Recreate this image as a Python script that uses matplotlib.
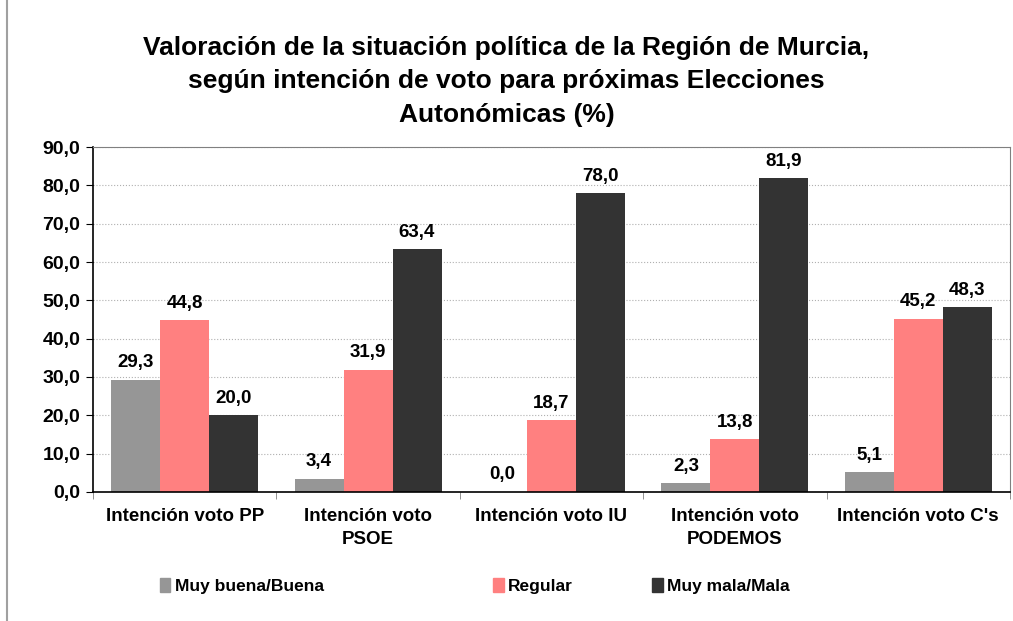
import numpy as np
import matplotlib
matplotlib.use('Agg')
from matplotlib import pyplot as plt
from matplotlib.ticker import FuncFormatter, FixedLocator
from matplotlib.lines import Line2D
from matplotlib.patches import Patch

plt.rcParams['font.family'] = ['Liberation Sans', 'DejaVu Sans']
plt.rcParams['font.weight'] = 'bold'

categories = ['Intención voto PP', 'Intención voto\nPSOE', 'Intención voto IU',
              'Intención voto\nPODEMOS', "Intención voto C's"]
series_names = ['Muy buena/Buena', 'Regular', 'Muy mala/Mala']
buena = [29.3, 3.4, 0.0, 2.3, 5.1]
regular = [44.8, 31.9, 18.7, 13.8, 45.2]
mala = [20.0, 63.4, 78.0, 81.9, 48.3]
colors = ['#969696', '#FF8080', '#333333']

title = ('Valoración de la situación política de la Región de Murcia,\n'
         'según intención de voto para próximas Elecciones\n'
         'Autonómicas (%)')


def fmt(v):
    return f'{v:.1f}'.replace('.', ',')


fig = plt.figure(figsize=(10.13, 6.21), dpi=100)
ax = fig.add_axes([0.0918, 0.208, 0.9052, 0.555])

x = np.arange(len(categories))
w = 0.267
for i, (vals, c, name) in enumerate(zip([buena, regular, mala], colors, series_names)):
    bars = ax.bar(x + (i - 1) * w, vals, width=w, color=c, label=name, zorder=2)
    for b, v in zip(bars, vals):
        ax.annotate(fmt(v), (b.get_x() + b.get_width() / 2, v),
                    xytext=(0, 6), textcoords='offset points',
                    ha='center', va='bottom', fontsize=13.5, fontweight='bold')

ax.set_xlim(-0.5, len(categories) - 0.5)
ax.set_ylim(0, 90)
ax.set_yticks(np.arange(0, 91, 10))
ax.yaxis.set_major_formatter(FuncFormatter(lambda v, p: fmt(v)))
ax.tick_params(axis='y', labelsize=14, direction='out', length=5, width=0.8, pad=4)
for lbl in ax.get_yticklabels():
    lbl.set_fontweight('bold')

ax.set_xticks(x)
ax.set_xticklabels(categories, fontsize=13.5, fontweight='bold', linespacing=1.4)
ax.tick_params(axis='x', length=0, pad=12)
ax.xaxis.set_minor_locator(FixedLocator(np.arange(-0.5, len(categories), 1.0)))
ax.tick_params(axis='x', which='minor', length=5, direction='out', color='#808080')

ax.yaxis.grid(True, linestyle=':', color='#b0b0b0', linewidth=0.8, zorder=0)
ax.set_axisbelow(True)
ax.spines['left'].set_color('black')
ax.spines['bottom'].set_color('black')
ax.spines['left'].set_linewidth(1.2)
ax.spines['bottom'].set_linewidth(1.2)
ax.spines['top'].set_color('#808080')
ax.spines['right'].set_color('#808080')

fig.text(0.5, 0.795, title, ha='center', va='bottom', fontsize=19,
         fontweight='bold', linespacing=1.52)

# legend entries sit at uneven positions in the original
leg_x = [0.158, 0.487, 0.644]
for name, c, lx in zip(series_names, colors, leg_x):
    leg = fig.legend(handles=[Patch(color=c, label=name)], loc='center left',
                     bbox_to_anchor=(lx, 0.056), frameon=False, fontsize=12.5,
                     handlelength=0.6, handleheight=0.8, handletextpad=0.25,
                     borderpad=0, borderaxespad=0)
    for t in leg.get_texts():
        t.set_fontweight('bold')

fig.add_artist(Line2D([0.007, 0.007], [0.0, 1.0], color='#a0a0a0', linewidth=1.5))

fig.savefig('out.png', dpi=100)
